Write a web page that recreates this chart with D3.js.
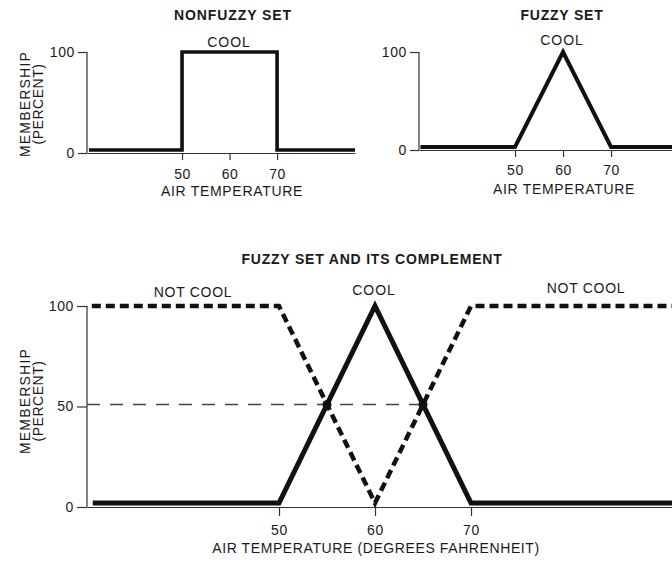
<!DOCTYPE html>
<html>
<head>
<meta charset="utf-8">
<script src="https://cdn.jsdelivr.net/npm/d3@7"></script>
<style>
  html, body { margin: 0; padding: 0; background: #fff; }
  svg { display: block; }
  text { font-family: "Liberation Sans", Arial, Helvetica, sans-serif; fill: #1a1a1a; }
  .axis path, .axis line { stroke: #333; stroke-width: 1.2; }
  .axis text { font-size: 14px; letter-spacing: 0.6px; fill: #1a1a1a; }
</style>
</head>
<body>
<svg id="chart" width="672" height="563"></svg>
<script>
// ---------- data ----------
const xTickValues = [50, 60, 70];
const yTicksTop = [0, 100];
const yTicksBottom = [0, 50, 100];

const titles = ["NONFUZZY SET", "FUZZY SET", "FUZZY SET AND ITS COMPLEMENT"];
const xAxisLabels = ["AIR TEMPERATURE", "AIR TEMPERATURE", "AIR TEMPERATURE (DEGREES FAHRENHEIT)"];
const yAxisLabel = ["MEMBERSHIP", "(PERCENT)"];

// Nonfuzzy "COOL" (crisp set)
const crispX = [30.4, 50, 50, 70, 70, 86.4];
const crispY = [0, 0, 100, 100, 0, 0];

// Fuzzy "COOL" (top right)
const fuzzyX = [30.3, 50, 60, 70, 82.7];
const fuzzyY = [0, 0, 100, 0, 0];

// Bottom: COOL and NOT COOL
const coolX = [30.6, 50, 60, 70, 91];
const coolY = [0, 0, 100, 0, 0];
const notCoolX = [30.5, 50, 60, 70, 91];
const notCoolY = [100, 100, 0, 100, 100];

// 50% reference and crossover points
const halfLineX = [30, 65];
const halfLineY = [50, 50];
const crossX = [55, 65];
const crossY = [50, 50];

// ---------- drawing ----------
const svg = d3.select("#chart");
const zip = (xs, ys) => xs.map((x, i) => [x, ys[i]]);

function panel(cfg) {
  const x = d3.scaleLinear().domain(cfg.xDomain).range(cfg.xRange);
  const y = d3.scaleLinear().domain([0, 100]).range(cfg.yRange);
  // the heavy drawn curves sit slightly above the axis base line
  const yl = d3.scaleLinear().domain([0, 100]).range([cfg.yRange[0] - cfg.lift, cfg.yRange[1]]);
  const g = svg.append("g");

  const xa = g.append("g").attr("class", "axis")
    .attr("transform", `translate(0,${cfg.yRange[0]})`)
    .call(d3.axisBottom(x).tickValues(xTickValues).tickSize(cfg.xTick).tickSizeOuter(0).tickPadding(cfg.xPad));
  xa.selectAll(".tick text").attr("dy", "0.71em");

  const ya = g.append("g").attr("class", "axis")
    .attr("transform", `translate(${cfg.xRange[0]},0)`)
    .call(d3.axisLeft(y).tickValues(cfg.yTicks).tickSize(cfg.yTick).tickSizeOuter(0).tickPadding(3));
  ya.select(".domain").attr("d", `M0,${cfg.yRange[0]}V${cfg.yRange[1]}`);

  return { x, y, yl, g };
}

function label(txt, x, yv, opts = {}) {
  const t = svg.append("text")
    .attr("x", x).attr("y", yv)
    .attr("text-anchor", opts.anchor || "middle")
    .style("font-size", (opts.size || 14) + "px")
    .style("font-weight", opts.bold ? "bold" : "normal")
    .style("letter-spacing", (opts.ls != null ? opts.ls : 0.6) + "px")
    .text(txt);
  if (opts.rotate) t.attr("transform", `rotate(-90,${x},${yv})`);
  return t;
}

const line = (p, xs, ys) => d3.line().x(d => p.x(d[0])).y(d => p.yl(d[1]))(zip(xs, ys));

// ---- Panel 1: nonfuzzy set ----
const p1 = panel({ xDomain: [30, 86.4], xRange: [87, 355], yRange: [153, 52], yTicks: yTicksTop,
  lift: 3, xTick: 7, xPad: 9, yTick: 9 });
p1.g.append("path").attr("d", line(p1, crispX, crispY))
  .attr("fill", "none").attr("stroke", "#111").attr("stroke-width", 3.6).attr("stroke-linejoin", "miter");
label(titles[0], 233, 20, { bold: true, ls: 0.9 });
label("COOL", 229, 47, { ls: 0.9 });
label(xAxisLabels[0], 232, 196, { ls: 0.7 });
label(yAxisLabel[0], 30, 104, { rotate: true, ls: 1.2 });
label(yAxisLabel[1], 43, 104, { rotate: true, ls: 0.5 });

// ---- Panel 2: fuzzy set ----
const p2 = panel({ xDomain: [30, 82.7], xRange: [419, 672], yRange: [150, 52], yTicks: yTicksTop,
  lift: 3, xTick: 7, xPad: 8, yTick: 9 });
p2.g.append("path").attr("d", line(p2, fuzzyX, fuzzyY))
  .attr("fill", "none").attr("stroke", "#111").attr("stroke-width", 4).attr("stroke-linejoin", "miter");
label(titles[1], 562, 20, { bold: true, ls: 0.8 });
label("COOL", 562, 45, { ls: 0.9 });
label(xAxisLabels[1], 564, 194, { ls: 0.7 });

// ---- Panel 3: fuzzy set and complement ----
const p3 = panel({ xDomain: [30, 91], xRange: [87, 672.6], yRange: [507, 306], yTicks: yTicksBottom,
  lift: 4, xTick: 9, xPad: 9, yTick: 10 });
// 50% reference line
p3.g.append("path")
  .attr("d", d3.line().x(d => p3.x(d[0])).y(d => p3.yl(d[1]))(zip(halfLineX, halfLineY)))
  .attr("fill", "none").attr("stroke", "#444").attr("stroke-width", 1.5).attr("stroke-dasharray", "13,10");
// NOT COOL (dashed)
p3.g.append("path").attr("d", line(p3, notCoolX, notCoolY))
  .attr("fill", "none").attr("stroke", "#111").attr("stroke-width", 4.5).attr("stroke-dasharray", "9,5");
// COOL (solid)
p3.g.append("path").attr("d", line(p3, coolX, coolY))
  .attr("fill", "none").attr("stroke", "#111").attr("stroke-width", 5).attr("stroke-linejoin", "miter");
// crossover points
p3.g.selectAll("circle").data(zip(crossX, crossY)).join("circle")
  .attr("cx", d => p3.x(d[0])).attr("cy", d => p3.yl(d[1])).attr("r", 4.5).attr("fill", "#111");

label(titles[2], 372, 264, { bold: true, ls: 0.8 });
label("NOT COOL", 193, 297, { ls: 0.7 });
label("COOL", 374, 295, { ls: 0.9 });
label("NOT COOL", 586, 293, { ls: 0.7 });
label(xAxisLabels[2], 376, 553, { ls: 0.6 });
label(yAxisLabel[0], 30, 401, { rotate: true, ls: 1.2 });
label(yAxisLabel[1], 43, 401, { rotate: true, ls: 0.5 });
</script>
</body>
</html>
